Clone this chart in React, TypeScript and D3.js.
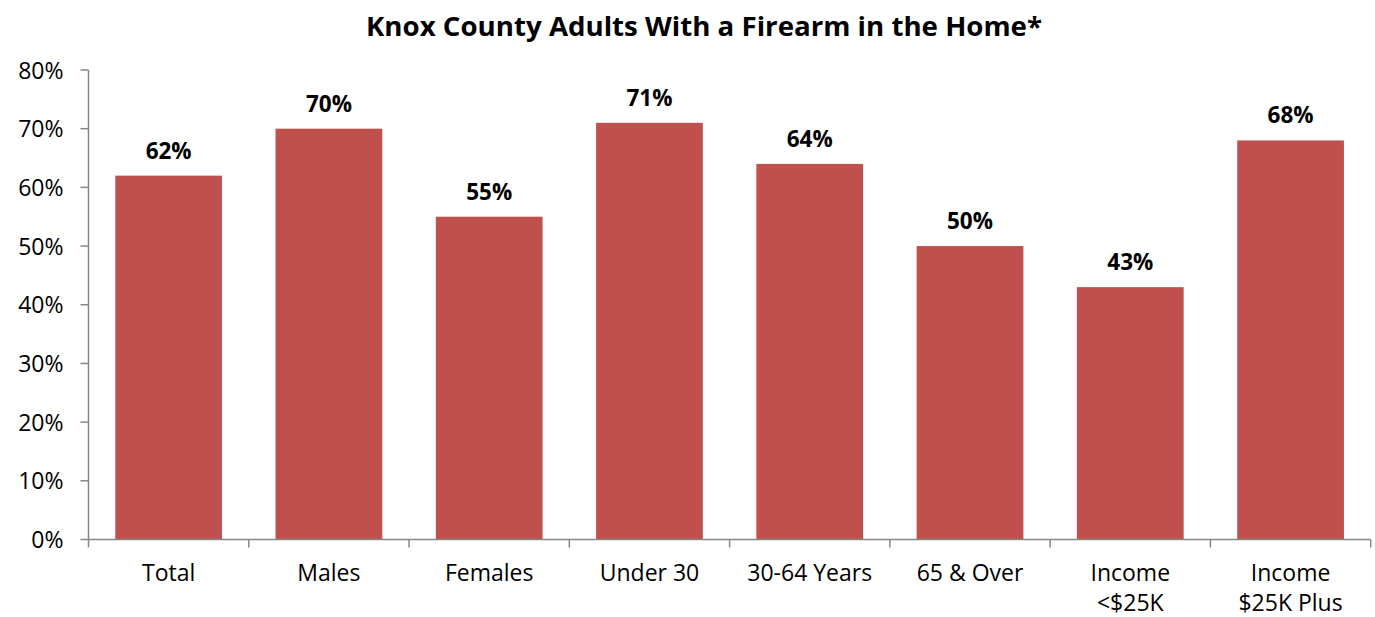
import React from "react";
import * as d3 from "d3";

const categories: string[][] = [
  ["Total"],
  ["Males"],
  ["Females"],
  ["Under 30"],
  ["30-64 Years"],
  ["65 & Over"],
  ["Income", "<$25K"],
  ["Income", "$25K Plus"],
];
const values: number[] = [62, 70, 55, 71, 64, 50, 43, 68];
const yTicks: number[] = [0, 10, 20, 30, 40, 50, 60, 70, 80];
const title = "Knox County Adults With a Firearm in the Home*";

const W = 1375;
const H = 617;
const left = 88.5;
const right = 1370.7;
const top = 70;
const bottom = 539.5;
const FONT = "'Open Sans', 'Noto Sans', sans-serif";
const BAR = "#C0504D";
const AXIS = "#868686";

export default function App() {
  const keys = categories.map((c) => c.join(" "));
  const x = d3.scaleBand<string>().domain(keys).range([left, right]).paddingInner(0.334).paddingOuter(0.167);
  const y = d3.scaleLinear().domain([0, 80]).range([bottom, top]);
  const step = (right - left) / keys.length;

  return (
    <svg width={W} height={H} style={{ position: "absolute", left: 0, top: 0, background: "#fff" }}>
      <text x={704} y={36} textAnchor="middle" fontFamily={FONT} fontWeight="bold" fontSize={27} textLength={676} lengthAdjust="spacingAndGlyphs" fill="#000">
        {title}
      </text>
      {keys.map((k, i) => (
        <rect key={k} x={x(k)} y={y(values[i])} width={x.bandwidth()} height={bottom - y(values[i])} fill={BAR} />
      ))}
      {keys.map((k, i) => (
        <text key={"v" + k} x={(x(k) as number) + x.bandwidth() / 2} y={y(values[i]) - 17} textAnchor="middle" fontFamily={FONT} fontWeight="bold" fontSize={22.5} fill="#000">
          {values[i]}%
        </text>
      ))}
      <line x1={left} x2={left} y1={top} y2={bottom} stroke={AXIS} strokeWidth={1.5} />
      {yTicks.map((t) => (
        <g key={"y" + t}>
          <line x1={left - 8} x2={left} y1={y(t)} y2={y(t)} stroke={AXIS} strokeWidth={1.5} />
          <text x={left - 25} y={y(t) + 8.5} textAnchor="end" fontFamily={FONT} fontSize={23} fill="#000">
            {t}%
          </text>
        </g>
      ))}
      <line x1={left} x2={right} y1={bottom} y2={bottom} stroke={AXIS} strokeWidth={1.5} />
      {d3.range(keys.length + 1).map((i) => (
        <line key={"xt" + i} x1={left + i * step} x2={left + i * step} y1={bottom} y2={bottom + 8} stroke={AXIS} strokeWidth={1.5} />
      ))}
      {keys.map((k, i) => (
        <text key={"c" + k} x={(x(k) as number) + x.bandwidth() / 2} y={581} textAnchor="middle" fontFamily={FONT} fontSize={23} fill="#000">
          {categories[i].map((line, j) => (
            <tspan key={j} x={(x(k) as number) + x.bandwidth() / 2} dy={j === 0 ? 0 : 30}>
              {line}
            </tspan>
          ))}
        </text>
      ))}
    </svg>
  );
}
